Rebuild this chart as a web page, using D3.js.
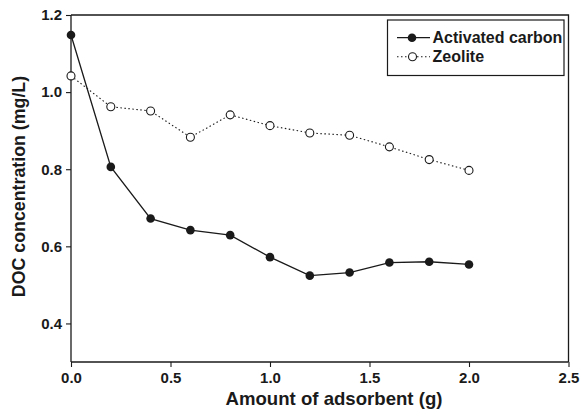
<!DOCTYPE html>
<html>
<head>
<meta charset="utf-8">
<script src="https://cdn.jsdelivr.net/npm/d3@7"></script>
<style>
body{margin:0;background:#fff;}
svg{display:block;font-family:"Liberation Sans",Arial,sans-serif;}
</style>
</head>
<body>
<svg id="chart" width="581" height="416"></svg>
<script>
const xValues = [0, 0.2, 0.4, 0.6, 0.8, 1.0, 1.2, 1.4, 1.6, 1.8, 2.0];
const carbon = [1.148, 0.806, 0.672, 0.642, 0.629, 0.572, 0.524, 0.532, 0.558, 0.560, 0.553];
const zeolite = [1.042, 0.962, 0.951, 0.883, 0.941, 0.913, 0.894, 0.888, 0.858, 0.825, 0.797];
const xTicks = [0, 0.5, 1.0, 1.5, 2.0, 2.5];
const yTicks = [0.4, 0.6, 0.8, 1.0, 1.2];
const seriesNames = ["Activated carbon", "Zeolite"];

const svg = d3.select("#chart");
const L = 71, R = 568.5, T = 15, B = 362;
const ink = "#1a1a1a";
const x = d3.scaleLinear().domain([0, 2.5]).range([L, R]);
const y = d3.scaleLinear().domain([0.3, 1.2]).range([B, T]);

// frame
svg.append("path").attr("d", `M${L},${T}H${R}V${B}`).attr("fill","none").attr("stroke",ink).attr("stroke-width",1.3);

const xa = svg.append("g").attr("transform",`translate(0,${B})`)
  .call(d3.axisBottom(x).tickValues(xTicks).tickFormat(d3.format(".1f")).tickSize(5).tickPadding(5.5));
const ya = svg.append("g").attr("transform",`translate(${L},0)`)
  .call(d3.axisLeft(y).tickValues(yTicks).tickFormat(d3.format(".1f")).tickSize(5).tickPadding(4));
[xa, ya].forEach(a => {
  a.selectAll("path.domain").attr("stroke",ink).attr("stroke-width",1.3);
  a.selectAll(".tick line").attr("stroke",ink).attr("stroke-width",1.1);
  a.selectAll("text").attr("fill",ink).attr("font-size",15).attr("font-weight","bold").attr("font-family","Liberation Sans, Arial, sans-serif");
});
xa.select("path.domain").attr("d", `M${L},0H${R}`);
ya.select("path.domain").attr("d", `M0,${T}V${B}`);

svg.append("text").attr("x",334).attr("y",405).attr("text-anchor","middle")
  .attr("font-size",18.6).attr("font-weight","bold").attr("fill",ink).text("Amount of adsorbent (g)");
svg.append("text").attr("transform",`translate(25,186.5) rotate(-90)`).attr("text-anchor","middle")
  .attr("font-size",17.8).attr("font-weight","bold").attr("fill",ink).text("DOC concentration (mg/L)");

const line = d3.line().x((d,i)=>x(xValues[i])).y(d=>y(d));
svg.append("path").datum(zeolite).attr("d",line).attr("fill","none").attr("stroke",ink).attr("stroke-width",1.1).attr("stroke-dasharray","1.5,2.5");
svg.append("path").datum(carbon).attr("d",line).attr("fill","none").attr("stroke",ink).attr("stroke-width",1.3);

svg.selectAll("circle.c").data(carbon).enter().append("circle").attr("class","c")
  .attr("cx",(d,i)=>x(xValues[i])).attr("cy",d=>y(d)).attr("r",4.3).attr("fill",ink);
svg.selectAll("circle.z").data(zeolite).enter().append("circle").attr("class","z")
  .attr("cx",(d,i)=>x(xValues[i])).attr("cy",d=>y(d)).attr("r",4).attr("fill","#fff").attr("stroke",ink).attr("stroke-width",1.1);

// legend
const lg = svg.append("g");
lg.append("rect").attr("x",387.5).attr("y",20).attr("width",176.5).attr("height",55.5).attr("fill","#fff").attr("stroke",ink).attr("stroke-width",1.2);
const ly = [37.7, 56.7];
lg.append("line").attr("x1",397).attr("x2",430).attr("y1",ly[0]).attr("y2",ly[0]).attr("stroke",ink).attr("stroke-width",1.3);
lg.append("circle").attr("cx",412).attr("cy",ly[0]).attr("r",4.3).attr("fill",ink);
lg.append("line").attr("x1",397).attr("x2",430).attr("y1",ly[1]).attr("y2",ly[1]).attr("stroke",ink).attr("stroke-width",1.1).attr("stroke-dasharray","1.5,2.5");
lg.append("circle").attr("cx",412.5).attr("cy",ly[1]).attr("r",4).attr("fill","#fff").attr("stroke",ink).attr("stroke-width",1.1);
seriesNames.forEach((n,i)=>{
  lg.append("text").attr("x",432.5).attr("y",ly[i]).attr("dy","0.36em").attr("font-size",16).attr("font-weight","bold").attr("fill",ink).text(n);
});
</script>
</body>
</html>
